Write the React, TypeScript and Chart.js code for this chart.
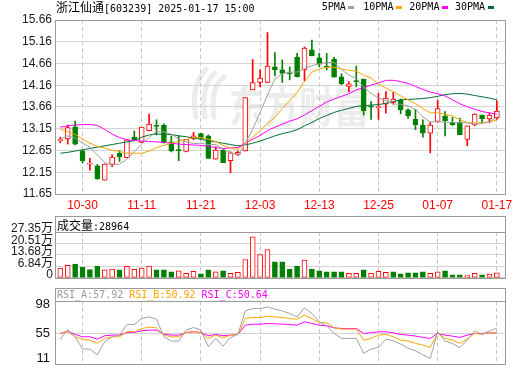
import React, { useEffect, useRef } from 'react';
import { Chart, registerables } from 'chart.js';

Chart.register(...registerables);

// ---------------- data ----------------
const stockName = '浙江仙通';
const stockCode = '603239';
const stamp = '2025-01-17 15:00';

const days = [
  '10-25', '10-28', '10-29', '10-30', '10-31', '11-01', '11-04', '11-05', '11-06', '11-07',
  '11-08', '11-11', '11-12', '11-13', '11-14', '11-15', '11-18', '11-19', '11-20', '11-21',
  '11-22', '11-25', '11-26', '11-27', '11-28', '11-29', '12-02', '12-03', '12-04', '12-05',
  '12-06', '12-09', '12-10', '12-11', '12-12', '12-13', '12-16', '12-17', '12-18', '12-19',
  '12-20', '12-23', '12-24', '12-25', '12-26', '12-27', '12-30', '12-31', '01-02', '01-03',
  '01-06', '01-07', '01-08', '01-09', '01-10', '01-13', '01-14', '01-15', '01-16', '01-17',
];
const tickDays = ['10-30', '11-11', '11-21', '12-03', '12-13', '12-25', '01-07', '01-17'];

const open = [
  12.88, 12.92, 13.20, 12.64, 12.34, 12.30, 11.97, 12.33, 12.59, 12.49,
  12.96, 12.84, 13.11, 13.23, 13.23, 12.85, 12.67, 12.63, 12.93, 13.04,
  12.99, 12.45, 12.66, 12.42, 12.56, 12.64, 14.05, 14.22, 14.22, 14.58,
  14.51, 14.44, 14.80, 14.51, 14.97, 14.79, 14.59, 14.76, 14.35, 14.13,
  14.25, 14.30, 13.67, 13.64, 13.72, 13.76, 13.82, 13.59, 13.37, 13.24,
  13.05, 13.32, 13.45, 13.30, 13.30, 12.91, 13.24, 13.47, 13.38, 13.41,
];
const high = [
  12.96, 13.24, 13.33, 12.66, 12.47, 12.33, 12.34, 12.55, 12.65, 12.90,
  13.10, 13.19, 13.49, 13.36, 13.27, 12.99, 13.00, 12.91, 13.07, 13.05,
  13.01, 12.74, 12.70, 12.62, 12.64, 13.87, 14.75, 14.51, 15.37, 14.91,
  14.74, 14.58, 14.89, 15.04, 15.20, 14.89, 14.89, 14.80, 14.42, 14.24,
  14.60, 14.30, 13.78, 13.97, 14.01, 13.99, 13.84, 13.61, 13.60, 13.36,
  13.30, 13.81, 13.55, 13.42, 13.40, 13.22, 13.50, 13.47, 13.52, 13.80,
];
const low = [
  12.83, 12.80, 12.78, 12.37, 12.20, 11.99, 11.97, 12.28, 12.40, 12.49,
  12.89, 12.83, 13.11, 13.01, 12.82, 12.62, 12.42, 12.62, 12.90, 12.92,
  12.47, 12.45, 12.37, 12.14, 12.54, 12.64, 14.05, 14.12, 14.22, 14.37,
  14.22, 14.28, 14.35, 14.26, 14.83, 14.58, 14.51, 14.34, 14.17, 14.01,
  14.12, 13.47, 13.37, 13.37, 13.51, 13.72, 13.50, 13.39, 13.13, 12.96,
  12.60, 13.30, 12.99, 13.23, 13.02, 12.76, 13.22, 13.28, 13.29, 13.37,
];
const close = [
  12.89, 13.18, 12.80, 12.41, 12.36, 12.00, 12.34, 12.50, 12.51, 12.90,
  12.90, 13.19, 13.26, 13.21, 12.84, 12.64, 12.65, 12.91, 12.99, 12.93,
  12.47, 12.66, 12.37, 12.60, 12.61, 13.87, 14.22, 14.32, 14.60, 14.51,
  14.43, 14.42, 14.35, 15.01, 14.84, 14.64, 14.57, 14.34, 14.19, 14.19,
  14.24, 13.57, 13.65, 13.66, 13.86, 13.84, 13.59, 13.45, 13.24, 13.05,
  13.24, 13.62, 13.34, 13.25, 13.02, 13.22, 13.49, 13.38, 13.47, 13.56,
];

const ma5 = [
  12.92, 12.99, 12.94, 12.82, 12.73, 12.55, 12.38, 12.32, 12.34, 12.45,
  12.63, 12.80, 12.95, 13.09, 13.08, 13.03, 12.92, 12.85, 12.81, 12.82,
  12.79, 12.79, 12.68, 12.61, 12.54, 12.82, 13.14, 13.53, 13.93, 14.30,
  14.42, 14.46, 14.46, 14.54, 14.61, 14.65, 14.68, 14.68, 14.52, 14.39,
  14.31, 14.11, 13.97, 13.86, 13.80, 13.72, 13.72, 13.68, 13.60, 13.43,
  13.31, 13.32, 13.30, 13.30, 13.29, 13.29, 13.26, 13.27, 13.32, 13.42,
];
const ma10 = [
  13.14, 13.09, 13.02, 12.92, 12.82, 12.75, 12.71, 12.66, 12.63, 12.59,
  12.59, 12.59, 12.64, 12.72, 12.77, 12.83, 12.86, 12.90, 12.95, 12.95,
  12.91, 12.86, 12.77, 12.71, 12.68, 12.81, 12.96, 13.11, 13.27, 13.42,
  13.62, 13.80, 13.99, 14.24, 14.46, 14.53, 14.57, 14.57, 14.53, 14.50,
  14.48, 14.39, 14.32, 14.19, 14.09, 14.01, 13.91, 13.82, 13.73, 13.62,
  13.52, 13.52, 13.49, 13.45, 13.36, 13.30, 13.29, 13.29, 13.31, 13.36,
];
const ma20 = [
  13.19, 13.22, 13.24, 13.25, 13.25, 13.23, 13.14, 13.03, 12.95, 12.90,
  12.88, 12.87, 12.86, 12.85, 12.84, 12.82, 12.80, 12.79, 12.78, 12.77,
  12.75, 12.72, 12.70, 12.71, 12.72, 12.82, 12.91, 13.00, 13.11, 13.19,
  13.26, 13.33, 13.38, 13.47, 13.57, 13.67, 13.77, 13.84, 13.90, 13.96,
  14.05, 14.10, 14.16, 14.21, 14.27, 14.27, 14.24, 14.20, 14.13, 14.06,
  14.00, 13.96, 13.91, 13.82, 13.73, 13.66, 13.60, 13.55, 13.52, 13.49,
];
const ma30 = [
  12.59, 12.61, 12.64, 12.67, 12.70, 12.73, 12.76, 12.79, 12.82, 12.85,
  12.88, 12.96, 13.01, 13.03, 13.03, 13.02, 12.99, 12.97, 12.94, 12.91,
  12.88, 12.85, 12.82, 12.79, 12.76, 12.78, 12.82, 12.87, 12.93, 12.99,
  13.04, 13.08, 13.13, 13.22, 13.30, 13.39, 13.46, 13.53, 13.58, 13.62,
  13.67, 13.68, 13.70, 13.71, 13.74, 13.78, 13.82, 13.83, 13.84, 13.85,
  13.87, 13.90, 13.94, 13.96, 13.97, 13.95, 13.92, 13.89, 13.86, 13.82,
];
const maNames = ['5PMA', '10PMA', '20PMA', '30PMA'];

// volume in 万
const volume = [
  5.86, 7.43, 8.21, 6.45, 4.89, 7.03, 4.69, 5.28, 4.69, 6.84,
  5.08, 5.86, 7.03, 4.69, 4.69, 3.52, 4.10, 2.74, 3.91, 2.34,
  4.69, 3.52, 4.10, 2.74, 3.32, 10.94, 24.43, 13.87, 16.80, 9.57,
  9.57, 5.28, 7.03, 10.55, 5.28, 4.10, 3.52, 3.52, 3.52, 2.74,
  2.74, 4.69, 2.74, 3.91, 3.32, 3.52, 2.34, 2.93, 2.93, 3.52,
  2.74, 3.52, 4.10, 1.76, 1.76, 1.37, 2.74, 1.76, 2.15, 2.90,
];
// R = up day (red), G = down day (green)
const volDir = 'RRGGGGRRGR' + 'RRRGGGRRRG' + 'GRGRRRRRRG' + 'GGGRGGGGGR' + 'RGRRRGGGGG' + 'RRGGGRRGRR';
const volLast = '28964';

const rsiA = [
  46.4, 60.2, 49.7, 32.1, 32.1, 23.6, 42.6, 49.7, 52.1, 67.4,
  67.4, 75.9, 78.3, 75.0, 49.7, 43.5, 43.5, 59.3, 63.1, 59.3,
  35.5, 47.4, 36.4, 48.8, 53.1, 86.9, 90.2, 90.2, 92.6, 89.3,
  86.9, 83.1, 78.3, 91.2, 83.1, 71.2, 65.4, 54.5, 47.4, 47.4,
  47.4, 26.0, 32.1, 34.5, 46.4, 44.0, 39.3, 33.1, 29.7, 23.6,
  18.8, 56.9, 43.5, 40.2, 34.0, 45.0, 58.3, 53.1, 58.3, 62.0,
];
const rsiB = [
  54.5, 56.9, 49.7, 45.9, 45.0, 40.2, 47.4, 49.7, 49.7, 56.9,
  56.9, 61.6, 63.5, 62.6, 52.1, 49.7, 49.7, 55.9, 56.9, 55.5,
  47.4, 52.1, 48.3, 52.1, 53.1, 75.9, 77.3, 77.3, 79.3, 78.3,
  77.3, 75.9, 75.0, 80.7, 75.9, 70.2, 69.7, 62.6, 60.7, 60.7,
  60.7, 45.0, 47.4, 52.1, 53.1, 49.7, 45.0, 43.5, 40.2, 37.8,
  34.5, 55.5, 47.4, 45.0, 40.2, 46.4, 54.5, 53.5, 55.5, 55.5,
];
const rsiC = [
  54.5, 57.8, 53.1, 49.7, 49.7, 46.4, 51.2, 52.1, 52.1, 55.9,
  55.9, 58.3, 59.3, 59.3, 53.5, 52.1, 52.1, 55.9, 56.9, 55.9,
  51.2, 53.1, 51.2, 52.1, 53.1, 66.4, 67.8, 67.8, 68.8, 68.3,
  67.8, 67.4, 66.4, 71.2, 68.8, 66.4, 65.4, 62.6, 61.6, 61.6,
  61.6, 54.5, 55.5, 56.9, 56.9, 55.5, 53.1, 52.1, 50.7, 48.8,
  47.4, 54.5, 52.1, 50.7, 48.8, 52.1, 54.5, 54.5, 55.5, 55.5,
];
const rsiNames = ['RSI_A', 'RSI_B', 'RSI_C'];
const rsiLast = ['57.92', '50.92', '50.64'];

const priceTicks = ['11.65', '12.15', '12.65', '13.15', '13.66', '14.16', '14.66', '15.16', '15.66'];
const priceMin = 11.65;
const priceMax = 15.66;
const volTicks = ['0', '6.84万', '13.68万', '20.51万', '27.35万'];
const volMax = 27.35;
const rsiTickVals = [11, 54.5, 98];
const rsiTicks = ['11', '55', '98'];

// ---------------- style ----------------
const RED = '#ff0000';
const GREEN = '#008000';
const MA_COLORS = ['#a0a0a0', '#ffa500', '#ff00ff', '#006f35'];
const RSI_COLORS = ['#a0a0a0', '#ffa500', '#ff00ff'];
const GRID = '#d4d4d4';
const VGRID = '#c8c8c8';
const FRAME = '#9a9a9a';
const SANS = '"Liberation Sans", Arial, "Noto Sans CJK SC", sans-serif';
const MONO = '"DejaVu Sans Mono", monospace';
const CJK = '"Noto Sans CJK SC", sans-serif';
const X_MIN = -0.72;
const X_MAX = 60.1;

const idx = days.map((_, i) => i);
const tickIdx = tickDays.map((d) => days.indexOf(d));

function xScale(labels: boolean): any {
  return {
    type: 'linear',
    min: X_MIN,
    max: X_MAX,
    offset: false,
    afterBuildTicks: (s: any) => {
      s.ticks = tickIdx.map((v) => ({ value: v }));
    },
    afterFit: (s: any) => {
      s.height = labels ? 18 : 0;
    },
    ticks: {
      display: labels,
      autoSkip: false,
      maxRotation: 0,
      minRotation: 0,
      padding: 4,
      color: RED,
      font: { family: SANS, size: 12 },
      callback: (v: number) => days[v],
    },
    grid: { display: true, offset: false, drawTicks: false, color: VGRID, lineWidth: 1 },
    border: { display: false, dash: [4, 3] },
  };
}

function framePlugin(header: number): any {
  return {
    id: 'frame',
    afterDatasetsDraw(chart: any) {
      const { ctx, chartArea: a } = chart;
      const l = Math.round(a.left) + 0.5;
      const r = Math.round(a.right) + 0.5;
      const t = Math.round(a.top) + 0.5;
      const b = Math.round(a.bottom) + 0.5;
      ctx.save();
      ctx.setLineDash([]);
      ctx.strokeStyle = FRAME;
      ctx.lineWidth = 1;
      ctx.strokeRect(l, t - header, r - l, b - t + header);
      if (header) {
        ctx.beginPath();
        ctx.moveTo(l, t);
        ctx.lineTo(r, t);
        ctx.stroke();
      }
      ctx.restore();
    },
  };
}

const watermark: any = {
  id: 'watermark',
  beforeDraw(chart: any) {
    const { ctx, chartArea: a } = chart;
    ctx.save();
    ctx.fillStyle = '#ececec';
    ctx.strokeStyle = '#ececec';
    // emblem
    ctx.lineWidth = 5;
    ctx.lineCap = 'round';
    const ex = a.left + 137;
    const ey = a.top + 47;
    for (let k = 0; k < 3; k++) {
      ctx.beginPath();
      ctx.moveTo(ex + 4 + k * 9, ey + 50);
      ctx.quadraticCurveTo(ex - 2 + k * 10, ey + 20, ex + 14 + k * 9, ey + 2 + k * 4);
      ctx.stroke();
    }
    // text
    ctx.translate(a.left + 174, a.top + 87);
    ctx.scale(1, 1.22);
    ctx.font = `bold 35px ${CJK}`;
    ctx.textBaseline = 'middle';
    ctx.textAlign = 'left';
    ctx.fillText('东方财富', 0, 0);
    ctx.restore();
  },
};

const rsiLabels: any = {
  id: 'rsiLabels',
  afterDraw(chart: any) {
    const { ctx, chartArea: a, scales } = chart;
    const y = scales.y;
    ctx.save();
    ctx.font = `13px ${SANS}`;
    ctx.fillStyle = '#111';
    ctx.textAlign = 'right';
    ctx.textBaseline = 'middle';
    rsiTickVals.forEach((v, k) => {
      const py = Math.max(a.top + 3, Math.min(a.bottom - 6, y.getPixelForValue(v)));
      ctx.fillText(rsiTicks[k], a.left - 5, py);
    });
    ctx.restore();
  },
};

const baseOptions = {
  responsive: false,
  maintainAspectRatio: false,
  animation: false,
  events: [],
  plugins: { legend: { display: false }, tooltip: { enabled: false }, title: { display: false } },
};

function mainConfig(): any {
  const up = idx.map((i) => close[i] >= open[i]);
  return {
    type: 'bar',
    data: {
      datasets: [
        ...[ma5, ma10, ma20, ma30].map((arr, k) => ({
          type: 'line',
          label: maNames[k],
          data: idx.map((i) => ({ x: i, y: arr[i] })),
          borderColor: MA_COLORS[k],
          borderWidth: 1,
          pointRadius: 0,
          tension: 0,
          order: 0,
        })),
        {
          type: 'bar',
          label: 'body',
          data: idx.map((i) => ({ x: i, y: [open[i], close[i]] })),
          backgroundColor: up.map((u) => (u ? '#ffffff' : GREEN)),
          borderColor: up.map((u) => (u ? RED : GREEN)),
          borderWidth: 1,
          borderSkipped: false,
          barThickness: 5,
          minBarLength: 1,
          grouped: false,
          order: 1,
        },
        {
          type: 'bar',
          label: 'wick',
          data: idx.map((i) => ({ x: i, y: [low[i], high[i]] })),
          backgroundColor: up.map((u) => (u ? RED : GREEN)),
          borderWidth: 0,
          barThickness: 1,
          grouped: false,
          order: 2,
        },
      ],
    },
    options: {
      ...baseOptions,
      layout: { padding: { left: 0, right: 15, top: 20, bottom: 0 } },
      scales: {
        x: xScale(true),
        y: {
          type: 'linear',
          position: 'left',
          min: priceMin,
          max: priceMax,
          afterBuildTicks: (s: any) => {
            s.ticks = priceTicks.map((_, k) => ({ value: priceMin + (k * (priceMax - priceMin)) / (priceTicks.length - 1) }));
          },
          afterFit: (s: any) => {
            s.width = 55;
          },
          ticks: {
            autoSkip: false,
            padding: 3,
            color: '#1a1a1a',
            font: { family: SANS, size: 12 },
            callback: (_v: number, i: number) => priceTicks[i],
          },
          grid: { drawTicks: false, color: GRID, lineWidth: 1 },
          border: { display: false },
        },
      },
    },
    plugins: [watermark, framePlugin(0)],
  };
}

function volConfig(): any {
  const up = idx.map((i) => volDir[i] === 'R');
  return {
    type: 'bar',
    data: {
      datasets: [
        {
          label: '成交量',
          data: idx.map((i) => ({ x: i, y: volume[i] })),
          backgroundColor: up.map((u) => (u ? '#ffffff' : GREEN)),
          borderColor: up.map((u) => (u ? RED : GREEN)),
          borderWidth: 1,
          borderSkipped: false,
          barThickness: 5,
          grouped: false,
        },
      ],
    },
    options: {
      ...baseOptions,
      layout: { padding: { left: 0, right: 15, top: 22, bottom: 8 } },
      scales: {
        x: xScale(false),
        y: {
          type: 'linear',
          min: 0,
          max: volMax,
          afterBuildTicks: (s: any) => {
            s.ticks = volTicks.map((_, k) => ({ value: (k * volMax) / (volTicks.length - 1) }));
          },
          afterFit: (s: any) => {
            s.width = 55;
          },
          ticks: {
            autoSkip: false,
            padding: 2,
            labelOffset: -3,
            color: '#1a1a1a',
            font: { family: SANS, size: 12 },
            callback: (_v: number, i: number) => volTicks[i],
          },
          grid: { drawTicks: false, color: GRID, lineWidth: 1 },
          border: { display: false },
        },
      },
    },
    plugins: [framePlugin(16)],
  };
}

function rsiConfig(): any {
  return {
    type: 'line',
    data: {
      datasets: [rsiA, rsiB, rsiC].map((arr, k) => ({
        label: rsiNames[k],
        data: idx.map((i) => ({ x: i, y: arr[i] })),
        borderColor: RSI_COLORS[k],
        borderWidth: 1,
        pointRadius: 0,
        tension: 0,
      })),
    },
    options: {
      ...baseOptions,
      layout: { padding: { left: 0, right: 15, top: 19, bottom: 1 } },
      scales: {
        x: xScale(false),
        y: {
          type: 'linear',
          min: 10.6,
          max: 101.1,
          afterBuildTicks: (s: any) => {
            s.ticks = rsiTickVals.map((v) => ({ value: v }));
          },
          afterFit: (s: any) => {
            s.width = 55;
          },
          ticks: { display: false },
          grid: {
            drawTicks: false,
            lineWidth: 1,
            color: (c: any) => (c.tick && c.tick.value === 54.5 ? GRID : 'rgba(0,0,0,0)'),
          },
          border: { display: false },
        },
      },
    },
    plugins: [framePlugin(13), rsiLabels],
  };
}

const legendPos = [
  { text: 321.7, box: 347.7 },
  { text: 363.3, box: 396 },
  { text: 409.3, box: 442.3 },
  { text: 455, box: 487.7 },
];

export default function App() {
  const mainRef = useRef<HTMLCanvasElement>(null);
  const volRef = useRef<HTMLCanvasElement>(null);
  const rsiRef = useRef<HTMLCanvasElement>(null);

  useEffect(() => {
    const charts: Chart[] = [];
    if (mainRef.current) charts.push(new Chart(mainRef.current, mainConfig()));
    if (volRef.current) charts.push(new Chart(volRef.current, volConfig()));
    if (rsiRef.current) charts.push(new Chart(rsiRef.current, rsiConfig()));
    return () => charts.forEach((c) => c.destroy());
  }, []);

  const canvasStyle = (top: number, h: number): React.CSSProperties => ({
    position: 'absolute',
    left: 0,
    top,
    width: 520,
    height: h,
  });
  const rowStyle = (left: number, top: number): React.CSSProperties => ({
    position: 'absolute',
    left,
    top,
    height: 14,
    lineHeight: '14px',
    whiteSpace: 'nowrap',
    color: '#000',
  });

  return (
    <div style={{ position: 'absolute', left: 0, top: 0, width: 520, height: 365, background: '#fff', overflow: 'hidden' }}>
      <canvas ref={mainRef} width={520} height={212} style={canvasStyle(0, 212)} />
      <canvas ref={volRef} width={520} height={77} style={canvasStyle(210, 77)} />
      <canvas ref={rsiRef} width={520} height={83} style={canvasStyle(282, 83)} />

      <div style={rowStyle(56, 0)}>
        <span style={{ fontFamily: CJK, fontSize: 12 }}>{stockName}</span>
        <span style={{ fontFamily: MONO, fontSize: 10 }}>[{stockCode}] {stamp}</span>
      </div>
      {maNames.map((n, k) => (
        <React.Fragment key={n}>
          <div style={{ ...rowStyle(legendPos[k].text, 0), fontFamily: MONO, fontSize: 10 }}>{n}</div>
          <div
            style={{
              position: 'absolute',
              left: legendPos[k].box,
              top: 6,
              width: 6,
              height: 3,
              background: MA_COLORS[k],
            }}
          />
        </React.Fragment>
      ))}

      <div style={rowStyle(57, 218)}>
        <span style={{ fontFamily: CJK, fontSize: 12 }}>成交量</span>
        <span style={{ fontFamily: MONO, fontSize: 10 }}>:{volLast}</span>
      </div>

      <div style={{ ...rowStyle(57, 288), fontFamily: MONO, fontSize: 10 }}>
        {rsiNames.map((n, k) => (
          <span key={n} style={{ color: RSI_COLORS[k] === '#a0a0a0' ? '#999999' : RSI_COLORS[k] }}>
            {n}:{rsiLast[k]}
            {k < rsiNames.length - 1 ? ' ' : ''}
          </span>
        ))}
      </div>
    </div>
  );
}
